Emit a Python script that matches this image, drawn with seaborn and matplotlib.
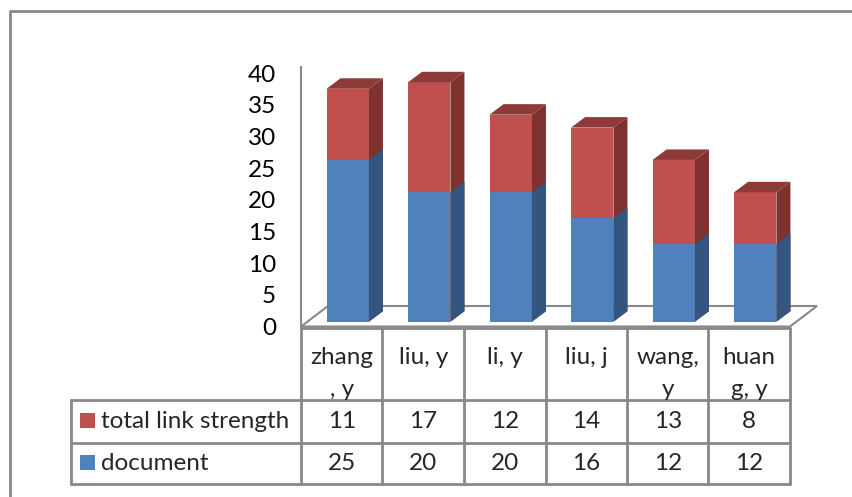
import numpy as np
import pandas as pd
import matplotlib
matplotlib.use("Agg")
import matplotlib.pyplot as plt
import seaborn as sns
from matplotlib.lines import Line2D
from matplotlib.patches import Polygon, Rectangle

authors = ["zhang, y", "liu, y", "li, y", "liu, j", "wang, y", "huang, y"]
author_labels = [["zhang", ", y"], ["liu, y"], ["li, y"], ["liu, j"], ["wang,", "y"], ["huan", "g, y"]]
documents = [25, 20, 20, 16, 12, 12]
link_strength = [11, 17, 12, 14, 13, 8]
series_names = ["total link strength", "document"]

df = pd.DataFrame({"author": authors, "document": documents,
                   "total link strength": link_strength})
df["total"] = df["document"] + df["total link strength"]

blue, red = "#4F81BD", "#C0504D"
blue_side, red_side, red_top = "#34557F", "#7E3230", "#8E3a38"
grid_col = "#898989"

sns.set_theme(style="white")
plt.rcParams["font.family"] = ["Lato", "DejaVu Sans"]
FS = 17.5

W, H = 853, 497
fig = plt.figure(figsize=(W / 100, H / 100), dpi=100)


def fx(x):
    return x / W


def fy(y):
    return 1 - y / H


# back wall axes, carries the value axis
ax = fig.add_axes([fx(301), fy(326.5), fx(489), (326.5 - 67) / H])
ax.set_facecolor("none")
ax.set_xlim(-0.5, 5.5)
ax.set_ylim(0, (326.5 - 67) / 6.33)
ax.set_yticks(range(0, 41, 5))
ax.set_xticks([])
ax.tick_params(axis="y", length=0, pad=18, labelsize=FS, colors="black")
for s in ["top", "right", "bottom"]:
    ax.spines[s].set_visible(False)
ax.spines["left"].set_color(grid_col)
ax.spines["left"].set_linewidth(1.5)

# floor of the 3d plot
floor = Polygon([(fx(301), fy(326.5)), (fx(790), fy(326.5)), (fx(817), fy(306)), (fx(328), fy(306))],
                closed=True, fill=False, edgecolor=grid_col, lw=1.5,
                transform=fig.transFigure, zorder=-1)
fig.add_artist(floor)

# front faces of the columns
axb = fig.add_axes([fx(307), fy(321.7), fx(489), 41 * 6.47 / H])
axb.set_zorder(1)
axb.set_facecolor("none")
sns.barplot(data=df, x="author", y="total", color=red, saturation=1, width=0.52, ax=axb, linewidth=0)
sns.barplot(data=df, x="author", y="document", color=blue, saturation=1, width=0.52, ax=axb, linewidth=0)
axb.set_xlim(-0.5, 5.5)
axb.set_ylim(0, 41)
axb.axis("off")

# depth of the columns (side and top faces)
ppx = 489 / 6.0
ppy = 6.47
ddx, ddy = 14 / ppx, 10.5 / ppy
n = len(authors)
for i, p in enumerate(axb.patches):
    x1 = p.get_x() + p.get_width()
    x0 = p.get_x()
    y1 = p.get_height()
    is_red = i < n
    side = Polygon([(x1, 0), (x1 + ddx, ddy), (x1 + ddx, y1 + ddy), (x1, y1)],
                   closed=True, facecolor=red_side if is_red else blue_side,
                   edgecolor="none", clip_on=False, zorder=p.get_zorder())
    axb.add_patch(side)
    if is_red:
        top = Polygon([(x0, y1), (x1, y1), (x1 + ddx, y1 + ddy), (x0 + ddx, y1 + ddy)],
                      closed=True, facecolor=red_top, edgecolor="none",
                      clip_on=False, zorder=p.get_zorder())
        axb.add_patch(top)


# data table under the plot
def hline(x0, x1, y):
    fig.add_artist(Line2D([fx(x0), fx(x1)], [fy(y), fy(y)], color=grid_col, lw=2,
                          transform=fig.transFigure))


def vline(x, y0, y1):
    fig.add_artist(Line2D([fx(x), fx(x)], [fy(y0), fy(y1)], color=grid_col, lw=2,
                          transform=fig.transFigure))


col_w = 489 / 6.0
cols = [301 + k * col_w for k in range(n + 1)]
rows = [328, 400, 442.5, 483.5]
hline(301, cols[-1], rows[0])
for r in rows[1:]:
    hline(71, cols[-1], r)
for c in cols:
    vline(c, rows[0], rows[-1])
vline(71, rows[1], rows[-1])

for k, lines in enumerate(author_labels):
    cx = (cols[k] + cols[k + 1]) / 2
    for m, line in enumerate(lines):
        fig.text(fx(cx), fy(364 + 32 * m), line, ha="center", va="baseline", fontsize=FS)

row_vals = [link_strength, documents]
row_cols = [red, blue]
for j in range(2):
    cy = (rows[j + 1] + rows[j + 2]) / 2
    fig.add_artist(Rectangle((fx(80), fy(cy + 7)), fx(15), 15 / H, facecolor=row_cols[j],
                             edgecolor="none", transform=fig.transFigure))
    fig.text(fx(101), fy(cy + 6.5), series_names[j], ha="left", va="baseline", fontsize=FS)
    for k in range(n):
        cx = (cols[k] + cols[k + 1]) / 2
        fig.text(fx(cx), fy(cy + 6.5), str(row_vals[j][k]), ha="center", va="baseline", fontsize=FS)

# chart area frame
fig.add_artist(Line2D([fx(9.5), fx(9.5), fx(W + 5)], [fy(H + 5), fy(10.5), fy(10.5)],
                      color=grid_col, lw=2, transform=fig.transFigure))

fig.savefig("out.png", dpi=100)
